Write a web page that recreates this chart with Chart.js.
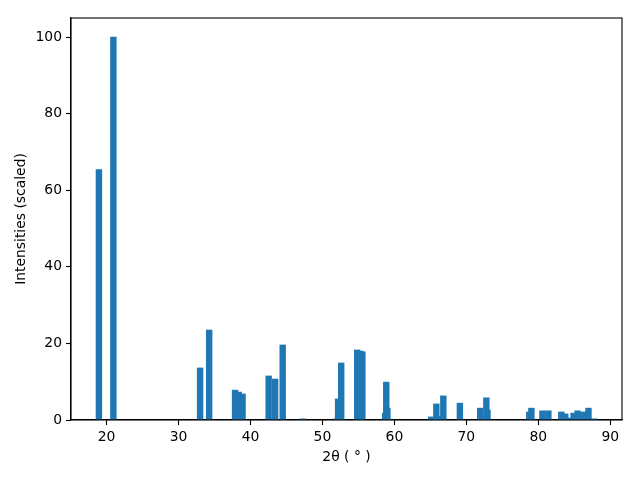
<!DOCTYPE html>
<html>
<head>
<meta charset="utf-8">
<script src="https://cdn.jsdelivr.net/npm/chart.js@4.4.1/dist/chart.umd.min.js"></script>
<style>
  html, body { margin: 0; padding: 0; background: #ffffff; }
  #wrap { width: 640px; height: 480px; }
</style>
</head>
<body>
<div id="wrap"><canvas id="c" width="640" height="480"></canvas></div>
<script>
const angles = [18.94, 20.95, 33.0, 34.26, 37.86, 38.36, 38.9, 42.53, 43.43, 44.48,
  47.26, 51.95, 52.18, 52.61, 54.83, 55.27, 55.55, 58.72, 58.87, 59.03,
  65.12, 65.83, 66.05, 66.8, 69.1, 71.93, 72.78, 72.94, 78.75, 79.04,
  80.57, 81.4, 83.2, 83.75, 84.2, 84.55, 84.9, 85.46, 86.26, 86.97, 87.78];
const intensities = [65.4, 100, 13.6, 23.5, 7.8, 7.3, 6.8, 11.5, 10.7, 19.6,
  0.3, 0.3, 5.5, 14.9, 18.3, 18.0, 17.8, 1.8, 9.9, 3.1,
  0.8, 4.2, 1.0, 6.3, 4.4, 3.1, 5.8, 2.6, 2.1, 3.1,
  2.4, 2.4, 2.1, 1.6, 0.3, 0.5, 1.8, 2.4, 2.1, 3.1, 0.3];
const xTicks = [20, 30, 40, 50, 60, 70, 80, 90];
const yTicks = [0, 20, 40, 60, 80, 100];
const xLabel = '2θ ( ° )';
const yLabel = 'Intensities (scaled)';

const FONT = { family: 'DejaVu Sans', size: 13.9 };

const boxPlugin = {
  id: 'box',
  afterDraw(chart) {
    const a = chart.chartArea, ctx = chart.ctx;
    ctx.save();
    ctx.strokeStyle = '#000';
    ctx.lineWidth = 1.1;
    ctx.strokeRect(a.left, a.top, a.right - a.left, a.bottom - a.top);
    ctx.restore();
  }
};

new Chart(document.getElementById('c'), {
  type: 'bar',
  data: {
    datasets: [{
      data: angles.map((x, i) => ({ x: x, y: intensities[i] })),
      backgroundColor: '#1f77b4',
      borderWidth: 0,
      barThickness: 5.75
    }]
  },
  options: {
    responsive: false,
    animation: false,
    devicePixelRatio: 1,
    layout: { padding: { top: 18, right: 18, left: 0, bottom: 0 } },
    plugins: { legend: { display: false }, tooltip: { enabled: false } },
    scales: {
      x: {
        type: 'linear',
        min: 15.06,
        max: 91.63,
        offset: false,
        afterBuildTicks: s => { s.ticks = xTicks.map(v => ({ value: v })); },
        afterFit: s => { s.height = 60; },
        grid: { offset: false, drawOnChartArea: false, drawTicks: true, tickLength: 5, tickColor: '#000', tickWidth: 1.1 },
        border: { display: true, color: '#000', width: 1.1 },
        ticks: { color: '#000', font: FONT, padding: 4, maxRotation: 0, autoSkip: false },
        title: { display: true, text: xLabel, color: '#000', font: FONT, padding: { top: 0, bottom: 14.5 } }
      },
      y: {
        type: 'linear',
        min: 0,
        max: 105,
        afterBuildTicks: s => { s.ticks = yTicks.map(v => ({ value: v })); },
        afterFit: s => { s.width = 71; },
        grid: { drawOnChartArea: false, drawTicks: true, tickLength: 5, tickColor: '#000', tickWidth: 1.1 },
        border: { display: true, color: '#000', width: 1.1 },
        ticks: { color: '#000', font: FONT, padding: 4, autoSkip: false },
        title: { display: true, text: yLabel, color: '#000', font: FONT, padding: { top: 13.5, bottom: 0 } }
      }
    }
  },
  plugins: [boxPlugin]
});
</script>
</body>
</html>
